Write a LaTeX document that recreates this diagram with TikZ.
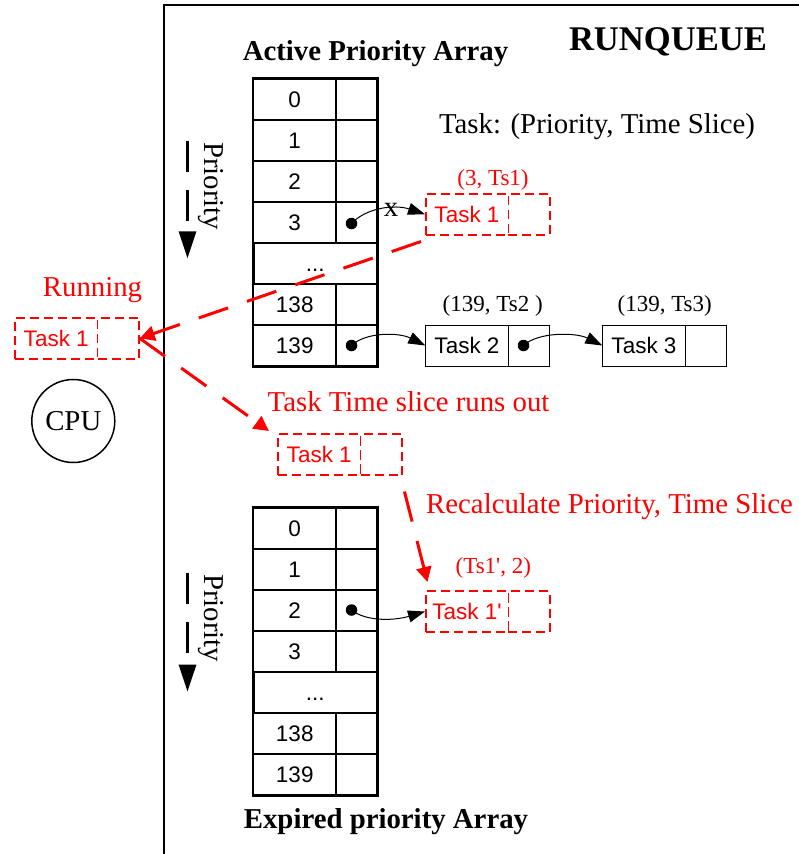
\documentclass[tikz,border=0pt]{standalone}
\usepackage{fontspec}
\setmainfont{Liberation Serif}[Ligatures=TeXOff]
\setsansfont{Liberation Sans}[Ligatures=TeXOff]
\usetikzlibrary{arrows.meta,calc}
\tikzset{
  serifL/.style={font=\fontsize{28.8}{34}\selectfont, inner sep=0pt},
  serifS/.style={font=\fontsize{23}{27}\selectfont, inner sep=0pt},
  boldL/.style={font=\bfseries\fontsize{28.8}{34}\selectfont, inner sep=0pt},
  sansM/.style={font=\sffamily\fontsize{22.5}{26}\selectfont},
  acell/.style={draw, line width=1.2pt, inner sep=0pt, minimum height=41pt, sansM, text height=16pt, text depth=0pt},
  numcell/.style={acell, minimum width=82.5pt},
  ptrcell/.style={acell, minimum width=41pt},
  dotrow/.style={acell, minimum width=123.5pt, line width=2.2pt},
  tbox/.style={draw, line width=1pt, inner sep=0pt, minimum height=41pt, sansM, text height=16pt, text depth=0pt},
  tname/.style={tbox, minimum width=82.5pt},
  tptr/.style={tbox, minimum width=41.5pt},
  rbox/.style={draw=red, text=red, dash pattern=on 9pt off 5pt, line width=1.5pt},
  ptrdot/.style={circle, fill, inner sep=0pt, minimum size=11.5pt},
  linkarrow/.style={line width=1pt, -{Triangle[length=17pt,width=12pt]}},
  redarrow/.style={red, line width=3pt, dash pattern=on 31pt off 20pt, -{Triangle[length=15pt,width=15pt]}},
  prioarrow/.style={line width=3pt, dash pattern=on 31pt off 18pt, -{Triangle[length=27pt,width=17pt]}},
}
\begin{document}
\begin{tikzpicture}[x=1pt,y=-1pt]
\useasboundingbox (0,0) rectangle (798,854);
% runqueue frame
\coordinate (fb) at (164,870);
\coordinate (ftl) at (164,5);
\coordinate (ftr) at (810,5);
\draw[line width=2pt] (fb) -- (ftl) -- (ftr);
\node[font=\bfseries\fontsize{34.6}{40}\selectfont, inner sep=0pt, anchor=base] (rq) at (668,50) {RUNQUEUE};
\node[boldL, anchor=base] (act) at (375.5,60) {Active Priority Array};
\node[serifL, anchor=base] (legend) at (597,133) {Task: (Priority, Time Slice)};

% active array
\node[numcell] (a0) at (294.75,99.5) {0};
\node[ptrcell] (ap0) at (356.5,99.5) {};
\node[numcell] (a1) at (294.75,140.5) {1};
\node[ptrcell] (ap1) at (356.5,140.5) {};
\node[numcell] (a2) at (294.75,181.5) {2};
\node[ptrcell] (ap2) at (356.5,181.5) {};
\node[numcell] (a3) at (294.75,222.5) {3};
\node[ptrcell] (ap3) at (356.5,222.5) {};
\node[dotrow] (adots) at (315.25,263.5) {...};
\node[numcell] (a138) at (294.75,304.5) {138};
\node[ptrcell] (ap138) at (356.5,304.5) {};
\node[numcell] (a139) at (294.75,345.5) {139};
\node[ptrcell] (ap139) at (356.5,345.5) {};
\draw[line width=2.2pt] (a0.north west) rectangle (ap139.south east);

% expired array
\node[numcell] (e0) at (294.75,528.5) {0};
\node[ptrcell] (ep0) at (356.5,528.5) {};
\node[numcell] (e1) at (294.75,569.5) {1};
\node[ptrcell] (ep1) at (356.5,569.5) {};
\node[numcell] (e2) at (294.75,610.5) {2};
\node[ptrcell] (ep2) at (356.5,610.5) {};
\node[numcell] (e3) at (294.75,651.5) {3};
\node[ptrcell] (ep3) at (356.5,651.5) {};
\node[dotrow] (edots) at (315.25,692.5) {...};
\node[numcell] (e138) at (294.75,733.5) {138};
\node[ptrcell] (ep138) at (356.5,733.5) {};
\node[numcell] (e139) at (294.75,774.5) {139};
\node[ptrcell] (ep139) at (356.5,774.5) {};
\draw[line width=2.2pt] (e0.north west) rectangle (ep139.south east);
\node[boldL, anchor=base] (exp) at (386,828) {Expired priority Array};

% priority arrows
\coordinate (pa1s) at (187.5,140.7);
\coordinate (pa1e) at (187.5,258.3);
\coordinate (pa2s) at (187.5,573);
\coordinate (pa2e) at (187.5,691.7);
\draw[prioarrow] (pa1s) -- (pa1e);
\draw[prioarrow] (pa2s) -- (pa2e);
\node[serifL, rotate=-90, anchor=base] (pr1) at (204.5,186) {Priority};
\node[serifL, rotate=-90, anchor=base] (pr2) at (204.5,618.3) {Priority};

% task boxes
\node[tname, rbox] (t1n) at (467,214.25) {Task 1};
\node[tptr, rbox] (t1p) at (529,214.25) {};
\node[serifS, red, anchor=base] (l31) at (493,185) {(3, Ts1)};

\node[tname] (t2n) at (467,345.5) {Task 2};
\node[tptr] (t2p) at (529,345.5) {};
\node[serifS, anchor=base] (l2) at (492.7,311) {(139, Ts2 )};

\node[tname] (t3n) at (644,345.5) {Task 3};
\node[tptr] (t3p) at (706,345.5) {};
\node[serifS, anchor=base] (l3) at (664.7,311) {(139, Ts3)};

\node[tname, rbox] (rn) at (56.25,338.3) {Task 1};
\node[tptr, rbox] (rp) at (118.25,338.3) {};
\node[serifL, red, anchor=base] (runl) at (92.5,296) {Running};

\node[tname, rbox] (mn) at (319.25,454.5) {Task 1};
\node[tptr, rbox] (mp) at (381.25,454.5) {};
\node[serifL, red, anchor=base west] (tsl) at (267.5,411.5) {Task Time slice runs out};

\node[tname, rbox] (t1pn) at (467,611.5) {Task 1'};
\node[tptr, rbox] (t1pp) at (529,611.5) {};
\node[serifS, red, anchor=base] (lts) at (493.3,573) {(Ts1', 2)};
\node[serifL, red, anchor=base west] (rcl) at (426,513) {Recalculate Priority, Time Slice};

% CPU
\node[circle, draw, line width=1.5pt, minimum size=83pt, serifL] (cpu) at (73.3,421) {CPU};

% pointer dots and links
\node[ptrdot] (d3) at (351.5,223.5) {};
\node[ptrdot] (d139) at (351.5,345.5) {};
\node[ptrdot] (dt2) at (523.5,345.5) {};
\node[ptrdot] (de2) at (351.5,610) {};
\draw[linkarrow] (d3.center) .. controls +(15,-16) and +(-30,-10) .. (t1n.west);
\node[serifL, anchor=base] (xl) at (391,216.5) {x};
\draw[linkarrow] (d139.center) .. controls +(15,-14) and +(-26,-13) .. (t2n.west);
\draw[linkarrow] (dt2.center) .. controls +(15,-14) and +(-26,-13) .. (t3n.west);
\draw[linkarrow] (de2.center) .. controls +(15,12) and +(-30,9) .. (t1pn.west);

% red flow arrows
\coordinate (r1s) at (421,241.5);
\coordinate (r2e) at (269,431);
\coordinate (r3s) at (400.5,476);
\coordinate (r3e) at (427.5,582);
\draw[redarrow] (r1s) -- (rp.east);
\draw[redarrow] (rp.east) -- (r2e);
\draw[redarrow, dash phase=35pt] (r3s) -- (r3e);
\end{tikzpicture}
\end{document}
